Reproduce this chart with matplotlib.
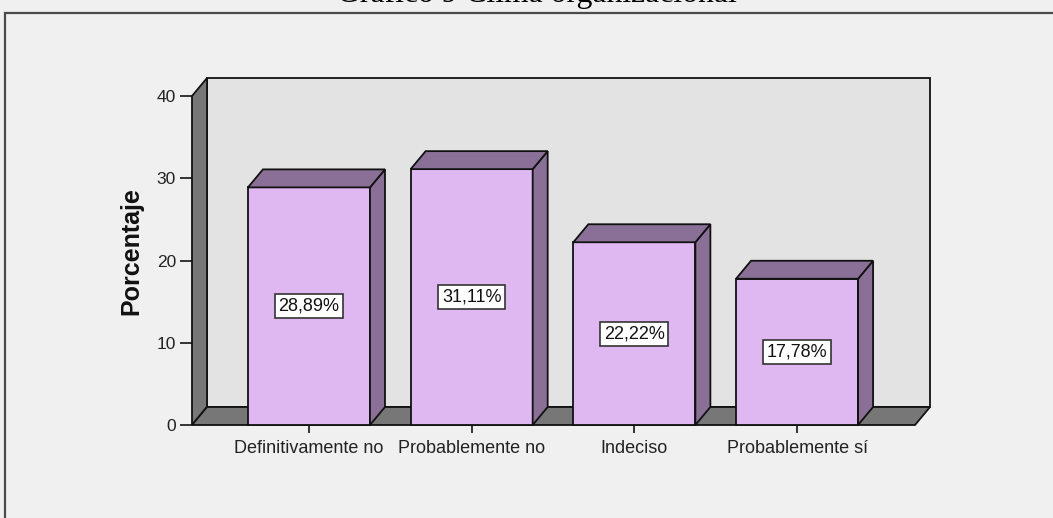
import numpy as np
import matplotlib.pyplot as plt
from matplotlib.patches import Polygon, Rectangle

# datos
categorias = ['Definitivamente no', 'Probablemente no', 'Indeciso', 'Probablemente sí']
porcentajes = [28.89, 31.11, 22.22, 17.78]
etiquetas = ['28,89%', '31,11%', '22,22%', '17,78%']
y_ticks = [0, 10, 20, 30, 40]

W, H = 1053, 518
fig = plt.figure(figsize=(W / 100, H / 100), dpi=100, facecolor='#F0F0F0')
plt.rcParams['font.family'] = ['Liberation Sans', 'DejaVu Sans']

# caja exterior
fig.patches.append(Rectangle((5 / W, -0.2), 2.0, 1.2 - 12.5 / H, transform=fig.transFigure,
                             facecolor='none', edgecolor='#4a4a4a', lw=1.6))
fig.text(0.5 + 10 / W, 1 - 2 / H, 'Gráfico 9 Clima organizacional', ha='center', va='baseline',
         family='Liberation Serif', fontsize=22.8, color='black')

# ejes (cara frontal)
ax_l, ax_b, ax_w, ax_h = 192, 93, 723, 347
ax = fig.add_axes([ax_l / W, ax_b / H, ax_w / W, ax_h / H])
ax.set_facecolor('none')
x0, x1 = -0.719, 3.725
y0, y1 = 0, 42.19
ax.set_xlim(x0, x1)
ax.set_ylim(y0, y1)
for s in ax.spines.values():
    s.set_visible(False)

# profundidad 3D
DX, DY = 15, 18
fx, fy = DX / ax_w, DY / ax_h
ddx, ddy = DX * (x1 - x0) / ax_w, DY * (y1 - y0) / ax_h

pared = '#E3E3E3'
oscuro = '#777777'
borde = '#111111'
lw = 1.3

# pared del fondo
ax.add_patch(Rectangle((fx, fy), 1, 1 - fy, transform=ax.transAxes, facecolor=pared,
                       edgecolor=borde, lw=lw, clip_on=False, zorder=1))
# pared izquierda
ax.add_patch(Polygon([(0, 0), (fx, fy), (fx, 1), (0, 1 - fy)], closed=True,
                     transform=ax.transAxes, facecolor=oscuro, edgecolor=borde, lw=lw,
                     clip_on=False, zorder=2))
# suelo
ax.add_patch(Polygon([(0, 0), (1, 0), (1 + fx, fy), (fx, fy)], closed=True,
                     transform=ax.transAxes, facecolor=oscuro, edgecolor=borde, lw=lw,
                     clip_on=False, zorder=2))

# barras
xs = np.arange(len(categorias))
ancho = 0.75
frente = '#DFB8F2'
lado = '#8A7097'
ax.bar(xs, porcentajes, width=ancho, color=frente, edgecolor=borde, lw=lw, zorder=3, clip_on=False)
for x, v, t in zip(xs, porcentajes, etiquetas):
    r = x + ancho / 2
    l = x - ancho / 2
    ax.add_patch(Polygon([(r, 0), (r + ddx, ddy), (r + ddx, v + ddy), (r, v)], closed=True,
                         facecolor=lado, edgecolor=borde, lw=lw, zorder=3, clip_on=False))
    ax.add_patch(Polygon([(l, v), (r, v), (r + ddx, v + ddy), (l + ddx, v + ddy)], closed=True,
                         facecolor=lado, edgecolor=borde, lw=lw, zorder=3, clip_on=False))
    ax.text(x, v / 2, t, ha='center', va='center', fontsize=13, color='#111111', zorder=5,
            bbox=dict(boxstyle='square,pad=0.2', facecolor='white', edgecolor='#333333', lw=1.2))

ax.set_xticks(xs)
ax.set_xticklabels(categorias, fontsize=13, color='#222222')
ax.set_yticks(y_ticks)
ax.set_yticklabels([str(v) for v in y_ticks], fontsize=12.5, color='#222222')
ax.tick_params(axis='x', length=6, width=1.4, color='#333333', pad=4.5)
ax.tick_params(axis='y', length=8.6, width=1.4, color='#333333', pad=3)
ax.set_ylabel('Porcentaje', fontsize=18, fontweight='bold', color='#111111', va='center')
ax.yaxis.set_label_coords((131 - ax_l) / ax_w, 0.5)

fig.savefig('out.png', dpi=100, facecolor=fig.get_facecolor())
